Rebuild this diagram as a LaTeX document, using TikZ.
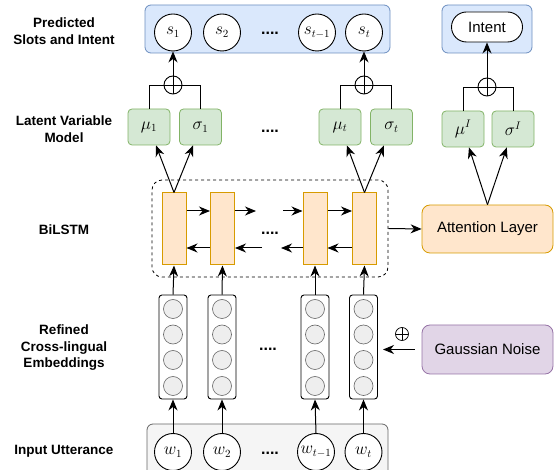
\documentclass[tikz,border=0pt]{standalone}
\usepackage{fontspec}
\setmainfont{Liberation Sans}
\usetikzlibrary{arrows.meta,calc}
\definecolor{bluefill}{HTML}{DAE8FC}
\definecolor{blueline}{HTML}{6C8EBF}
\definecolor{greenfill}{HTML}{D5E8D4}
\definecolor{greenline}{HTML}{82B366}
\definecolor{orangefill}{HTML}{FFE6CC}
\definecolor{orangeline}{HTML}{D79B00}
\definecolor{purplefill}{HTML}{E1D5E7}
\definecolor{purpleline}{HTML}{9673A6}
\definecolor{grayfill}{HTML}{F5F5F5}
\definecolor{grayline}{HTML}{666666}
\definecolor{unitfill}{HTML}{EEEEEE}
\begin{document}
\begin{tikzpicture}[x=1pt,y=-1pt,
  lbl/.style={font=\fontsize{13.5}{16.5}\selectfont\bfseries, align=center},
  grpbox/.style={rounded corners=6pt, line width=0.8pt, inner sep=0pt},
  circ/.style={circle, draw, fill=white, minimum size=37pt, inner sep=0pt, line width=0.9pt, font=\fontsize{16}{18}\selectfont},
  gbox/.style={draw=greenline, fill=greenfill, rounded corners=4pt, minimum width=42pt, minimum height=36pt, inner sep=0pt, line width=0.8pt, font=\fontsize{16}{18}\selectfont},
  lstm/.style={draw=orangeline, fill=orangefill, minimum width=24pt, minimum height=72pt, inner sep=0pt, line width=1pt},
  emb/.style={draw, fill=white, rounded corners=3pt, minimum width=28pt, minimum height=104pt, inner sep=0pt, line width=0.9pt},
  unit/.style={circle, draw=grayline, fill=unitfill, minimum size=19pt, inner sep=0pt, line width=0.6pt},
  plusc/.style={circle, draw, minimum size=18pt, inner sep=0pt, line width=0.9pt,
    path picture={\draw[line width=0.9pt] (path picture bounding box.north) -- (path picture bounding box.south) (path picture bounding box.west) -- (path picture bounding box.east);}},
  arr/.style={-{Stealth[length=11pt,width=9pt,inset=3.5pt]}, line width=1pt},
  ln/.style={line width=0.9pt},
  dotsty/.style={font=\fontsize{16}{16}\selectfont\bfseries, anchor=base, inner sep=0pt},
  rbox/.style={rounded corners=8pt, minimum width=131pt, inner sep=0pt, font=\fontsize{15}{17}\selectfont, line width=0.8pt}
]
\useasboundingbox (0,0) rectangle (555,470);
\clip (0,0) rectangle (555,470);

% left labels
\node[lbl] (l1) at (64,31) {Predicted\\Slots and Intent};
\node[lbl] (l2) at (64,129) {Latent Variable\\Model};
\node[lbl] (l3) at (64,230) {BiLSTM};
\node[lbl] (l4) at (64,348) {Refined\\Cross-lingual\\Embeddings};
\node[lbl] (l5) at (64,451) {Input Utterance};

% top groups
\node[grpbox, draw=blueline, fill=bluefill, minimum width=245pt, minimum height=48pt] (slotsbox) at (267.5,29) {};
\node[grpbox, draw=blueline, fill=bluefill, minimum width=90pt, minimum height=48pt] (intentbox) at (487,29) {};
\node[draw, fill=white, rounded corners=15pt, minimum width=71pt, minimum height=30pt, inner sep=0pt, line width=0.9pt, font=\fontsize{15}{17}\selectfont] (intent) at (487,27) {Intent};

\node[circ] (s1) at (173,32.5) {$s_1$};
\node[circ] (s2) at (222,32.5) {$s_2$};
\node[circ] (s3) at (317,32.5) {$s_{t-1}$};
\node[circ] (s4) at (364,32.5) {$s_t$};
\node[dotsty] (d1) at (270,34.5) {....};

% latent variables
\node[gbox] (mu1) at (149,127) {$\mu_1$};
\node[gbox] (sg1) at (200.5,127) {$\sigma_1$};
\node[gbox] (mut) at (340,127) {$\mu_t$};
\node[gbox] (sgt) at (391.5,127) {$\sigma_t$};
\node[gbox] (muI) at (463,129) {$\mu^I$};
\node[gbox] (sgI) at (513,129) {$\sigma^I$};
\node[dotsty] (d2) at (270,132.5) {....};

\node[plusc] (p1) at (173,85) {};
\node[plusc] (pt) at (364,85) {};
\node[plusc] (pI) at (487,87) {};

\draw[ln] (mu1.north) |- (p1.west);
\draw[ln] (sg1.north) |- (p1.east);
\draw[ln] (mut.north) |- (pt.west);
\draw[ln] (sgt.north) |- (pt.east);
\draw[ln] (muI.north) |- (pI.west);
\draw[ln] (sgI.north) |- (pI.east);
\draw[arr] (p1.north) -- (s1.south);
\draw[arr] (pt.north) -- (s4.south);
\draw[arr] (pI.north) -- (intent.south);

% BiLSTM
\node[draw, dashed, rounded corners=10pt, minimum width=236pt, minimum height=97pt, inner sep=0pt, line width=0.8pt] (bil) at (270,228.5) {};
\node[lstm] (h1) at (174,229) {};
\node[lstm] (h2) at (222.5,229) {};
\node[lstm] (h3) at (315,229) {};
\node[lstm] (h4) at (364.5,229) {};
\node[dotsty] (d3) at (270,234.5) {....};

\coordinate (f2) at (256,211);
\coordinate (f3) at (283,211);
\coordinate (b3) at (281,248);
\coordinate (b2) at (262,248);
\draw[arr] ($(h1.east)+(0,-18)$) -- ($(h2.west)+(0,-18)$);
\draw[arr] ($(h2.east)+(0,-18)$) -- (f2);
\draw[arr] (f3) -- ($(h3.west)+(0,-18)$);
\draw[arr] ($(h3.east)+(0,-18)$) -- ($(h4.west)+(0,-18)$);
\draw[arr] ($(h4.west)+(0,19)$) -- ($(h3.east)+(0,19)$);
\draw[arr] ($(h3.west)+(0,19)$) -- (b3);
\draw[arr] (b2) -- ($(h2.east)+(0,19)$);
\draw[arr] ($(h2.west)+(0,19)$) -- ($(h1.east)+(0,19)$);

\draw[arr] (h1.north) -- (mu1);
\draw[arr] (h1.north) -- (sg1);
\draw[arr] (h4.north) -- (mut);
\draw[arr] (h4.north) -- (sgt);

% attention
\node[rbox, draw=orangeline, fill=orangefill, minimum height=48pt] (att) at (487.5,229) {Attention Layer};
\draw[arr] (bil.east) -- (att.west);
\draw[arr] (att.north) -- (muI);
\draw[arr] (att.north) -- (sgI);

% embeddings
\foreach \n/\x in {e1/173, e2/222, e3/315, e4/363.5}{
  \node[emb] (\n) at (\x,347) {};
  \node[unit] (\n a) at (\x,309) {};
  \node[unit] (\n b) at (\x,334.5) {};
  \node[unit] (\n c) at (\x,360) {};
  \node[unit] (\n d) at (\x,386) {};
}
\node[dotsty] (d4) at (268,350.5) {....};
\draw[arr] (e1.north) -- (h1.south);
\draw[arr] (e2.north) -- (h2.south);
\draw[arr] (e3.north) -- (h3.south);
\draw[arr] (e4.north) -- (h4.south);

% gaussian noise
\node[rbox, draw=purpleline, fill=purplefill, minimum height=49pt] (gauss) at (487.5,349.5) {Gaussian Noise};
\coordinate (nend) at (383,349.5);
\draw[arr] ($(gauss.west)+(-7,0)$) -- (nend);
\node[plusc, minimum size=13pt, line width=0.7pt] (pg) at (402,334) {};

% input
\node[grpbox, draw=grayline, fill=grayfill, minimum width=241pt, minimum height=60pt] (inbox) at (267.5,454) {};
\node[circ] (w1) at (173,452) {$w_1$};
\node[circ] (w2) at (222,452) {$w_2$};
\node[circ] (w3) at (316,452) {$w_{t-1}$};
\node[circ] (w4) at (363.5,452) {$w_t$};
\node[dotsty] (d5) at (270,455) {....};
\draw[arr] (w1.north) -- (e1.south);
\draw[arr] (w2.north) -- (e2.south);
\draw[arr] (w3.north) -- (e3.south);
\draw[arr] (w4.north) -- (e4.south);
\end{tikzpicture}
\end{document}
